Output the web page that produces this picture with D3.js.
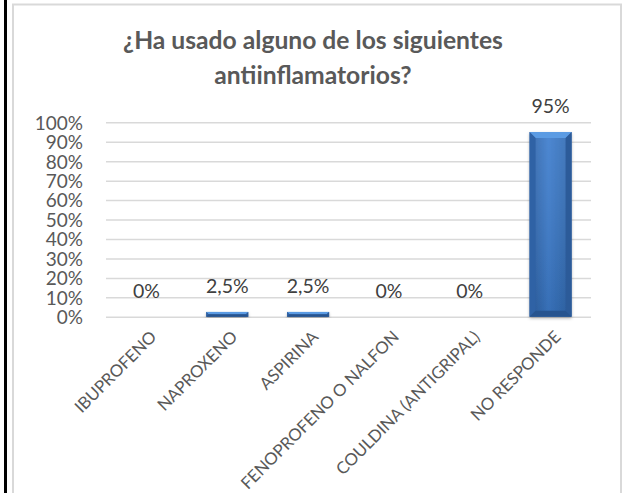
<!DOCTYPE html>
<html>
<head>
<meta charset="utf-8">
<script src="https://cdn.jsdelivr.net/npm/d3@7"></script>
<style>
  html, body { margin: 0; padding: 0; background: #fff; }
  svg { display: block; }
</style>
</head>
<body>
<svg id="chart" width="623" height="493"></svg>
<script>
const titleLines = ["¿Ha usado alguno de los siguientes", "antiinflamatorios?"];
const categories = ["IBUPROFENO", "NAPROXENO", "ASPIRINA", "FENOPROFENO O NALFON", "COULDINA (ANTIGRIPAL)", "NO RESPONDE"];
const values = [0, 2.5, 2.5, 0, 0, 95];
const valueLabels = ["0%", "2,5%", "2,5%", "0%", "0%", "95%"];
const yTicks = [0, 10, 20, 30, 40, 50, 60, 70, 80, 90, 100];

const svg = d3.select("#chart");
const W = 623, H = 493;
const plot = { left: 106, right: 591, top: 122.3, bottom: 316.8 };
const font = "Lato, 'Open Sans', sans-serif";

// frame
svg.append("rect").attr("x", 0).attr("y", 0).attr("width", W).attr("height", H).attr("fill", "#fff");
svg.append("rect").attr("x", 13).attr("y", 4.5).attr("width", 608).attr("height", H + 20)
  .attr("fill", "none").attr("stroke", "#d9d9d9").attr("stroke-width", 2);
svg.append("line").attr("x1", 5.5).attr("x2", 5.5).attr("y1", 0).attr("y2", H)
  .attr("stroke", "#000").attr("stroke-width", 3);

// gradients
const defs = svg.append("defs");
const g1 = defs.append("linearGradient").attr("id", "face").attr("x1", "0").attr("x2", "1").attr("y1", "0").attr("y2", "0");
g1.append("stop").attr("offset", "0").attr("stop-color", "#2e62a6");
g1.append("stop").attr("offset", "0.45").attr("stop-color", "#3d7dce");
g1.append("stop").attr("offset", "1").attr("stop-color", "#3068ae");
const g2 = defs.append("linearGradient").attr("id", "faceV").attr("x1", "0").attr("x2", "0").attr("y1", "0").attr("y2", "1");
g2.append("stop").attr("offset", "0").attr("stop-color", "#ffffff").attr("stop-opacity", 0.08);
g2.append("stop").attr("offset", "1").attr("stop-color", "#000000").attr("stop-opacity", 0.12);
const sh = defs.append("filter").attr("id", "shadow").attr("x", "-20%").attr("y", "-5%").attr("width", "140%").attr("height", "115%");
sh.append("feDropShadow").attr("dx", 0).attr("dy", 1.5).attr("stdDeviation", 1.5).attr("flood-color", "#000").attr("flood-opacity", 0.3);

// scales
const x = d3.scaleBand().domain(categories).range([plot.left, plot.right]).paddingInner(0.48).paddingOuter(0.24);
const y = d3.scaleLinear().domain([0, 100]).range([plot.bottom, plot.top]);

// gridlines
const grid = d3.axisLeft(y).tickValues(yTicks).tickSize(-(plot.right - plot.left)).tickFormat("");
const gg = svg.append("g").attr("transform", `translate(${plot.left},0)`).call(grid);
gg.select(".domain").remove();
gg.selectAll(".tick line").attr("stroke", "#d9d9d9").attr("stroke-width", 1.5);

// y axis labels
const ya = d3.axisLeft(y).tickValues(yTicks).tickSize(0).tickPadding(0).tickFormat(d => d + "%");
const yg = svg.append("g").attr("transform", `translate(83,0)`).call(ya);
yg.select(".domain").remove();
yg.selectAll(".tick text").attr("font-family", font).attr("font-size", 19).attr("fill", "#595959").attr("dy", "0.36em");

// bars
const bw = x.bandwidth();
const bars = svg.append("g");
categories.forEach((c, i) => {
  const v = values[i];
  if (v <= 0) return;
  const x0 = x(c), x1 = x0 + bw, yt = y(v), yb = y(0);
  const h = yb - yt;
  const b = Math.min(6, h / 2, bw / 2);
  const g = bars.append("g");
  g.append("rect").attr("x", x0).attr("y", yt).attr("width", bw).attr("height", h)
    .attr("fill", "url(#face)").attr("filter", "url(#shadow)");
  g.append("rect").attr("x", x0).attr("y", yt).attr("width", bw).attr("height", h).attr("fill", "url(#faceV)");
  g.append("polygon").attr("points", [[x0, yt], [x1, yt], [x1 - b, yt + b], [x0 + b, yt + b]].join(" "))
    .attr("fill", "#5b9be3");
  g.append("polygon").attr("points", [[x0, yt], [x0 + b, yt + b], [x0 + b, yb - b], [x0, yb]].join(" "))
    .attr("fill", "#2f62a5");
  g.append("polygon").attr("points", [[x1, yt], [x1, yb], [x1 - b, yb - b], [x1 - b, yt + b]].join(" "))
    .attr("fill", "#2c5b99");
  g.append("polygon").attr("points", [[x0, yb], [x0 + b, yb - b], [x1 - b, yb - b], [x1, yb]].join(" "))
    .attr("fill", "#27548f");
});

// value labels
svg.append("g").selectAll("text").data(categories).join("text")
  .attr("x", d => x(d) + bw / 2)
  .attr("y", (d, i) => y(values[i]) - 19)
  .attr("text-anchor", "middle")
  .attr("font-family", font).attr("font-size", 19.5).attr("fill", "#404040")
  .text((d, i) => valueLabels[i]);

// x labels
const xa = d3.axisBottom(x).tickSize(0).tickPadding(0);
const xg = svg.append("g").attr("transform", `translate(0,${plot.bottom})`).call(xa);
xg.select(".domain").remove();
xg.selectAll(".tick text")
  .attr("font-family", font).attr("font-size", 16.8).attr("fill", "#595959")
  .attr("text-anchor", "end")
  .attr("transform", "translate(7,17) rotate(-45)")
  .attr("dy", "0.35em").attr("y", 0).attr("x", 0);

// title
const tl = svg.append("g");
const targets = [380, 202];
const baselines = [49, 84];
titleLines.forEach((t, i) => {
  tl.append("text").attr("x", 313).attr("y", baselines[i]).attr("text-anchor", "middle")
    .attr("font-family", font).attr("font-weight", "bold").attr("font-size", 22).attr("fill", "#595959").text(t);
});
const first = tl.select("text").node();
const len = first.getComputedTextLength();
const fs = 22 * targets[0] / len;
tl.selectAll("text").attr("font-size", fs);
</script>
</body>
</html>
